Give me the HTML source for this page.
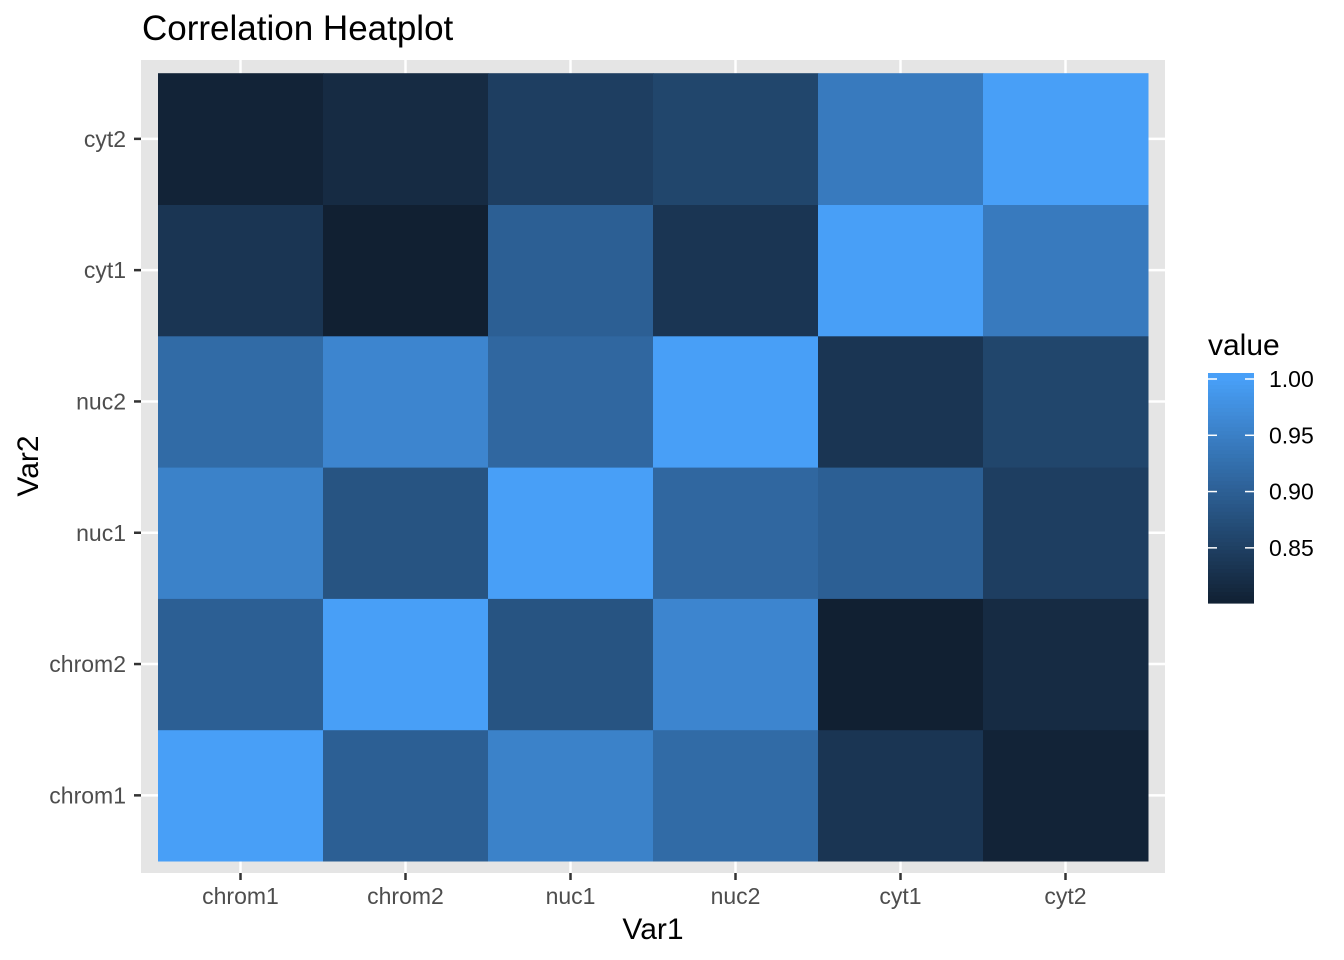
<!DOCTYPE html>
<html><head><meta charset="utf-8"><style>
body{margin:0;background:#fff;}
svg{display:block;font-family:"Liberation Sans",Arial,sans-serif;}
</style></head><body>
<svg id="chart" width="1344" height="960">
<text x="142" y="40" font-size="35" fill="#000">Correlation Heatplot</text>
<rect x="141" y="60" width="1024" height="813" fill="#E5E5E5"/>
<g id="grid"></g>
<g id="tiles"></g>
<g id="axes"></g>
<text x="653" y="939" font-size="30" text-anchor="middle" fill="#000">Var1</text>
<text transform="translate(38,466) rotate(-90)" font-size="30" text-anchor="middle" fill="#000">Var2</text>
<g id="legend"></g>
</svg>
<script>
const categories = ["chrom1","chrom2","nuc1","nuc2","cyt1","cyt2"];
const row_chrom1 = [1.00,0.90,0.954,0.918,0.834,0.806];
const row_chrom2 = [0.90,1.00,0.882,0.96,0.801,0.818];
const row_nuc1   = [0.954,0.882,1.00,0.912,0.90,0.848];
const row_nuc2   = [0.918,0.96,0.912,1.00,0.834,0.86];
const row_cyt1   = [0.834,0.801,0.90,0.834,1.00,0.942];
const row_cyt2   = [0.806,0.818,0.848,0.86,0.942,1.00];
const legendTicks = [0.85,0.90,0.95,1.00];
const legendLabels = ["0.85","0.90","0.95","1.00"];
const rows = [row_chrom1,row_chrom2,row_nuc1,row_nuc2,row_cyt1,row_cyt2];
const NS="http://www.w3.org/2000/svg";
const tileX0=158, tileW=165, tileYBottom=861, tileH=131.3;
function xPos(i){return tileX0+tileW*(i+0.5);}
function yPos(j){return tileYBottom-tileH*(j+0.5);}
const allVals=rows.flat();
const vmin=Math.min(...allVals), vmax=Math.max(...allVals);
const lo=[0x11,0x20,0x32], hi=[0x48,0x9F,0xF7];
function color(v){const t=Math.max(0,Math.min(1,(v-vmin)/(vmax-vmin)));return "rgb("+[0,1,2].map(k=>Math.round(lo[k]+(hi[k]-lo[k])*t)).join(",")+")";}
function mk(tag,attrs,parent){const e=document.createElementNS(NS,tag);for(const k in attrs)e.setAttribute(k,attrs[k]);parent.appendChild(e);return e;}
const grid=document.getElementById('grid'),tiles=document.getElementById('tiles'),axes=document.getElementById('axes'),legend=document.getElementById('legend');
categories.forEach((c,i)=>{
 const gx=mk('line',{x1:xPos(i),x2:xPos(i),y1:60,y2:873,stroke:'#fff','stroke-width':2.5},grid);
 
 
 const gy=mk('line',{x1:141,x2:1165,y1:yPos(i),y2:yPos(i),stroke:'#fff','stroke-width':2.5},grid);
 
 
});
rows.forEach((row,j)=>{row.forEach((v,i)=>{
 const r=mk('rect',{x:xPos(i)-tileW/2,y:yPos(j)-tileH/2,width:tileW+0.5,height:tileH+0.5,fill:color(v)},tiles);
 
 
});});
categories.forEach((c,i)=>{
 const tx=mk('line',{x1:xPos(i),x2:xPos(i),y1:873,y2:880,stroke:'#333','stroke-width':2.5},axes);
 
 
 const lx=mk('text',{x:xPos(i),y:904,'font-size':23,'text-anchor':'middle',fill:'#4D4D4D'},axes);lx.textContent=c;
 
 
 const ty=mk('line',{x1:134,x2:141,y1:yPos(i),y2:yPos(i),stroke:'#333','stroke-width':2.5},axes);
 
 
 const ly=mk('text',{x:126,y:yPos(i)+8,'font-size':23,'text-anchor':'end',fill:'#4D4D4D'},axes);ly.textContent=c;
 
 
});
const lt=mk('text',{x:1208,y:355,'font-size':30,fill:'#000'},legend);lt.textContent='value';


const barTop=373,barBot=603,barX=1208,barW=46;
const valTop=vmax+(vmax-vmin)*6/224;
function ly2(v){return barBot-(v-vmin)/(valTop-vmin)*(barBot-barTop);}
const N=60;
for(let k=0;k<N;k++){
 const v0=vmin+(valTop-vmin)*k/N;
 const s=mk('rect',{x:barX,y:ly2(v0+(valTop-vmin)/N),width:barW,height:(barBot-barTop)/N+0.6,fill:color(v0+(valTop-vmin)/N/2)},legend);
 
 
}
legendTicks.forEach((v,i)=>{
 const y=ly2(v);
 const a=mk('line',{x1:barX,x2:barX+9,y1:y,y2:y,stroke:'#fff','stroke-width':1.5},legend);
 
 
 const b=mk('line',{x1:barX+barW-9,x2:barX+barW,y1:y,y2:y,stroke:'#fff','stroke-width':1.5},legend);
 
 
 const t=mk('text',{x:1269,y:y+8,'font-size':23,fill:'#000'},legend);t.textContent=legendLabels[i];
 
 
});
</script>
</body></html>
